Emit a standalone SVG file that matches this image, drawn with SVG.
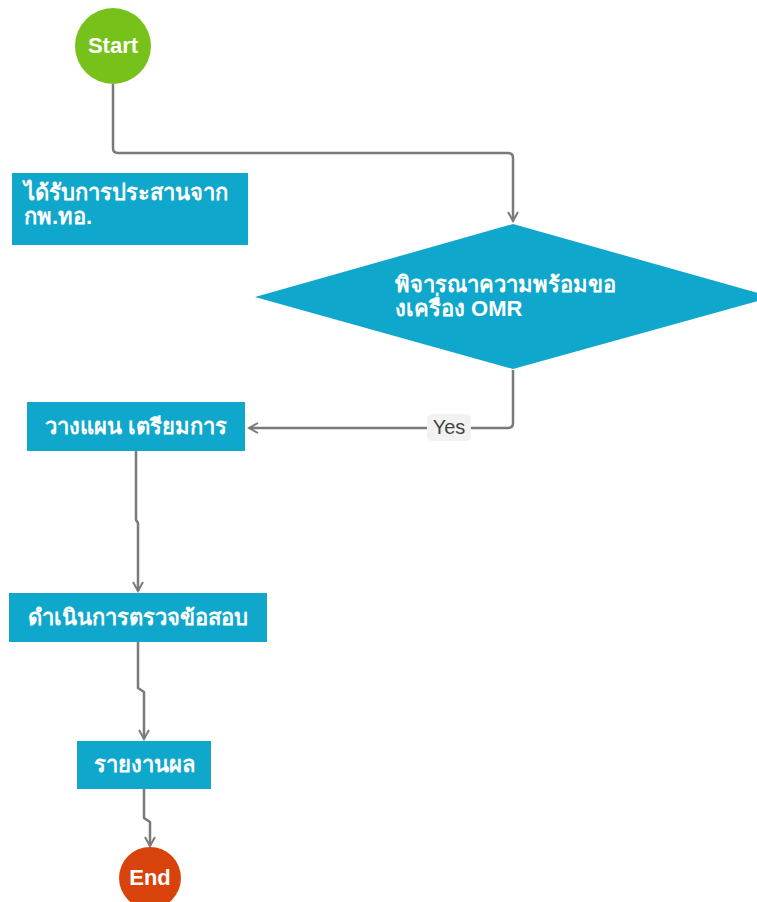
<svg xmlns="http://www.w3.org/2000/svg" width="757" height="902" viewBox="0 0 757 902">
<style>
.box{fill:#0fa7cb}
.t{font-family:"Liberation Sans","Noto Sans","DejaVu Sans",sans-serif;font-weight:bold;font-size:22px;fill:#fff}
.c{text-anchor:middle}
.ln{fill:none;stroke:#7a7a7a;stroke-width:2.5;stroke-linejoin:round}
</style>
<defs>
<marker id="ar" viewBox="0 0 12 12" refX="10" refY="6" markerWidth="12" markerHeight="12" markerUnits="userSpaceOnUse" orient="auto">
<path d="M1,1 L10,6 L1,11" fill="none" stroke="#7a7a7a" stroke-width="2"/>
</marker>
</defs>
<rect width="757" height="902" fill="#fff"/>
<g id="connectors">
<path class="ln" d="M113,84 V148 Q113,153 118,153 H508 Q513,153 513,158 V221" marker-end="url(#ar)"/>
<path class="ln" d="M513,370 V423 Q513,428 508,428 H249" marker-end="url(#ar)"/>
<rect x="427" y="414" width="44" height="27" rx="5" fill="#f2f2f2"/>
<text x="449" y="434" font-family="Liberation Sans,Arial,sans-serif" font-size="20" fill="#444" text-anchor="middle">Yes</text>
<path class="ln" d="M136,451 V520 L138,523 V591" marker-end="url(#ar)"/>
<path class="ln" d="M138,642 V688 L144,692 V739" marker-end="url(#ar)"/>
<path class="ln" d="M144,789 V818 L150,822 V846" marker-end="url(#ar)"/>
</g>
<g id="start">
<circle cx="113" cy="46" r="38" fill="#77c21a"/>
<text class="t c" x="113" y="53">Start</text>
</g>
<g id="n1">
<rect class="box" x="12" y="173" width="236" height="72"/>
<text class="t" x="24" y="200">ได้รับการประสานจาก</text>
<text class="t" x="24" y="224">กพ.ทอ.</text>
</g>
<g id="decision">
<polygon class="box" points="513,224 772,297 513,369 255,297"/>
<text class="t" x="395" y="292">พิจารณาความพร้อมขอ</text>
<text class="t" x="395" y="316">งเครื่อง OMR</text>
</g>
<g id="n2">
<rect class="box" x="27" y="402" width="218" height="49"/>
<text class="t c" x="136" y="434">วางแผน เตรียมการ</text>
</g>
<g id="n3">
<rect class="box" x="9" y="593" width="258" height="49"/>
<text class="t c" x="138" y="625">ดำเนินการตรวจข้อสอบ</text>
</g>
<g id="n4">
<rect class="box" x="77" y="741" width="134" height="48"/>
<text class="t c" x="144" y="772">รายงานผล</text>
</g>
<g id="end">
<circle cx="150" cy="878" r="31" fill="#d8430c"/>
<text class="t c" x="150" y="885">End</text>
</g>
</svg>
